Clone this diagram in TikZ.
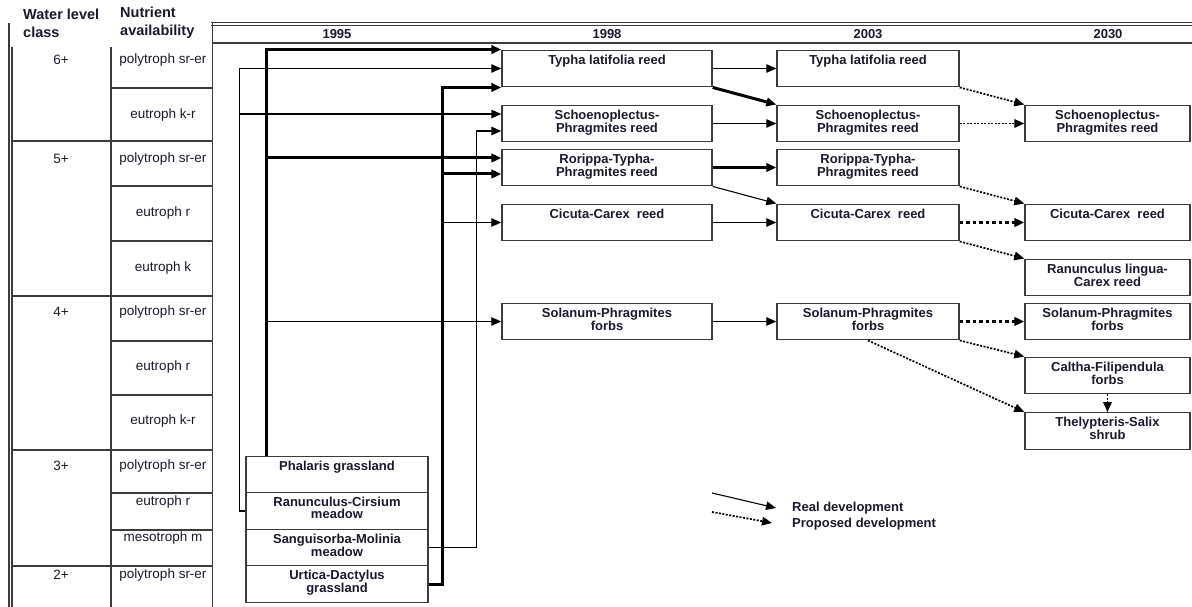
\documentclass[tikz,border=0pt]{standalone}
\usepackage{fontspec}
\setmainfont{Liberation Sans}
\usetikzlibrary{arrows.meta}

\definecolor{ink}{RGB}{25,25,45}
\definecolor{lncol}{RGB}{60,60,60}

\newcommand\boxfont{\fontsize{13}{12}\selectfont\bfseries}

\tikzset{
    box/.style={draw=lncol, line width=1.4pt, minimum height=36.5pt, inner sep=0pt},
    box95/.style={box, minimum width=182pt},
    box98/.style={box, minimum width=210pt},
    box03/.style={box, minimum width=182pt},
    box30/.style={box, minimum width=165pt},
    boxtext/.style={anchor=north, inner sep=5pt, align=center, text=ink, font=\boxfont},
    cell/.style={text=ink, font=\fontsize{13.5}{16}\selectfont, inner sep=0pt},
    headtext/.style={text=ink, font=\fontsize{14.5}{18}\selectfont\bfseries, align=left, anchor=west, inner sep=0pt},
    yeartext/.style={text=ink, font=\fontsize{13}{16}\selectfont\bfseries, inner sep=0pt},
    legtext/.style={text=ink, font=\fontsize{13}{16}\selectfont\bfseries, anchor=west, inner sep=0pt},
    tabline/.style={draw=lncol, line width=1.3pt},
    arrowtip/.style={-{Triangle[length=10pt, width=8.5pt]}},
    realdev/.style={arrowtip, line width=1.1pt},
    realmain/.style={arrowtip, line width=3pt},
    propdev/.style={arrowtip, line width=1.7pt, dash pattern=on 2pt off 1.5pt},
    propmain/.style={arrowtip, line width=3.2pt, dash pattern=on 3.5pt off 3pt}
}

\begin{document}
\begin{tikzpicture}[x=1pt, y=-1pt]
    \useasboundingbox (0, 0) rectangle (1192, 607);

    % table
    \draw[tabline] (9, 23) -- (9, 607);
    \draw[tabline] (12, 47) -- (12, 607);
    \draw[tabline] (111, 47) -- (111, 607);
    \draw[tabline] (212.5, 23) -- (212.5, 607);
    \foreach \y in {141, 296, 450, 566}
        \draw[tabline] (12, \y) -- (212.5, \y);
    \foreach \y in {88, 186, 241, 341, 395, 493, 530}
        \draw[tabline] (111, \y) -- (212.5, \y);
    \draw[tabline, line width=1pt] (211, 22.5) -- (1192, 22.5);
    \draw[tabline, line width=1pt] (211, 25.5) -- (1192, 25.5);
    \draw[tabline] (212.5, 43) -- (1192, 43);

    \node[headtext] (wlc) at (23, 23) {Water level\\class};
    \node[headtext] (nav) at (120, 23) {Nutrient\\availability};

    \foreach \n/\y in {6/60, 5/159, 4/312, 3/466, 2/575}
        \node[cell] (cls\n) at (61, \y) {\n+};
    \foreach \t/\y [count=\i] in {polytroph sr-er/60, eutroph k-r/115, polytroph sr-er/159,
            eutroph r/213, eutroph k/268, polytroph sr-er/312, eutroph r/367, eutroph k-r/421,
            polytroph sr-er/466, eutroph r/502, mesotroph m/538, polytroph sr-er/575}
        \node[cell] (nut\i) at (163, \y) {\t};

    \node[yeartext] (y95) at (337, 34) {1995};
    \node[yeartext] (y98) at (607, 34) {1998};
    \node[yeartext] (y03) at (868, 34) {2003};
    \node[yeartext] (y30) at (1108, 34) {2030};

    % 1995
    \node[box95, label={[boxtext]north:Phalaris grassland}] (ph95) at (337, 474.5) {};
    \node[box95, label={[boxtext]north:Ranunculus-Cirsium\\meadow}] (rc95) at (337, 511) {};
    \node[box95, label={[boxtext]north:Sanguisorba-Molinia\\meadow}] (sm95) at (337, 547.5) {};
    \node[box95, label={[boxtext]north:Urtica-Dactylus\\grassland}] (ur95) at (337, 584) {};

    % 1998
    \node[box98, label={[boxtext]north:Typha latifolia reed}] (ty98) at (607, 68.5) {};
    \node[box98, label={[boxtext]north:Schoenoplectus-\\Phragmites reed}] (sc98) at (607, 123.5) {};
    \node[box98, label={[boxtext]north:Rorippa-Typha-\\Phragmites reed}] (ro98) at (607, 167.5) {};
    \node[box98, label={[boxtext]north:Cicuta-Carex \ reed}] (ci98) at (607, 222.5) {};
    \node[box98, label={[boxtext]north:Solanum-Phragmites\\forbs}] (so98) at (607, 321.5) {};

    % 2003
    \node[box03, label={[boxtext]north:Typha latifolia reed}] (ty03) at (868, 68.5) {};
    \node[box03, label={[boxtext]north:Schoenoplectus-\\Phragmites reed}] (sc03) at (868, 123.5) {};
    \node[box03, label={[boxtext]north:Rorippa-Typha-\\Phragmites reed}] (ro03) at (868, 167.5) {};
    \node[box03, label={[boxtext]north:Cicuta-Carex \ reed}] (ci03) at (868, 222.5) {};
    \node[box03, label={[boxtext]north:Solanum-Phragmites\\forbs}] (so03) at (868, 321.5) {};

    % 2030
    \node[box30, label={[boxtext]north:Schoenoplectus-\\Phragmites reed}] (sc30) at (1107.5, 123.5) {};
    \node[box30, label={[boxtext]north:Cicuta-Carex \ reed}] (ci30) at (1107.5, 222.5) {};
    \node[box30, label={[boxtext]north:Ranunculus lingua-\\Carex reed}] (ra30) at (1107.5, 277.5) {};
    \node[box30, label={[boxtext]north:Solanum-Phragmites\\forbs}] (so30) at (1107.5, 321.5) {};
    \node[box30, label={[boxtext]north:Caltha-Filipendula\\forbs}] (ca30) at (1107.5, 375.5) {};
    \node[box30, label={[boxtext]north:Thelypteris-Salix\\shrub}] (th30) at (1107.5, 431) {};

    \coordinate (phup) at ([xshift=-71pt]ph95.north);
    \coordinate (rcleft) at ([xshift=-6pt]rc95.west);
    \coordinate (smright) at ([xshift=48pt]sm95.east);
    \coordinate (urright) at ([xshift=14pt]ur95.east);

    \draw[realdev] (rc95.west) -- (rcleft) |- (ty98.west);
    \draw[realdev] (rcleft) |- (sc98.west |- 0, 114);
    \draw[realmain] (phup) |- (ty98.north west);
    \draw[realmain] (phup) |- (ro98.west |- 0, 158);
    \draw[realdev] (phup) |- (so98.west);
    \draw[realmain] (ur95.east) -- (urright) |- (ty98.south west);
    \draw[realmain] (urright) |- (ro98.west |- 0, 174);
    \draw[realdev] (urright) |- (ci98.west);
    \draw[realdev] (sm95.east) -- (smright) |- (sc98.west |- 0, 131);

    \draw[realdev] (ty98.east) -- (ty03.west);
    \draw[realmain] (ty98.south east) -- (sc03.north west);
    \draw[realdev] (sc98.east) -- (sc03.west);
    \draw[realmain] (ro98.east) -- (ro03.west);
    \draw[realdev] (ro98.south east) -- (ci03.north west);
    \draw[realdev] (ci98.east) -- (ci03.west);
    \draw[realdev] (so98.east) -- (so03.west);

    \draw[propdev] (ty03.south east) -- (sc30.north west);
    \draw[propdev] (sc03.east) -- (sc30.west);
    \draw[propdev] (ro03.south east) -- (ci30.north west);
    \draw[propmain] (ci03.east) -- (ci30.west);
    \draw[propdev] (ci03.south east) -- (ra30.north west);
    \draw[propmain] (so03.east) -- (so30.west);
    \draw[propdev] (so03.south east) -- (ca30.north west);
    \draw[propdev] (so03.south) -- (th30.north west);
    \draw[propdev] (ca30.south) -- (th30.north);

    % legend
    \coordinate (rl1) at (712, 493);
    \coordinate (rl2) at (776, 508);
    \coordinate (pl1) at (712, 512);
    \coordinate (pl2) at (772, 523);
    \draw[realdev] (rl1) -- (rl2);
    \draw[propdev] (pl1) -- (pl2);
    \node[legtext] (rdev) at (792, 508) {Real development};
    \node[legtext] (pdev) at (792, 524) {Proposed development};
\end{tikzpicture}
\end{document}
